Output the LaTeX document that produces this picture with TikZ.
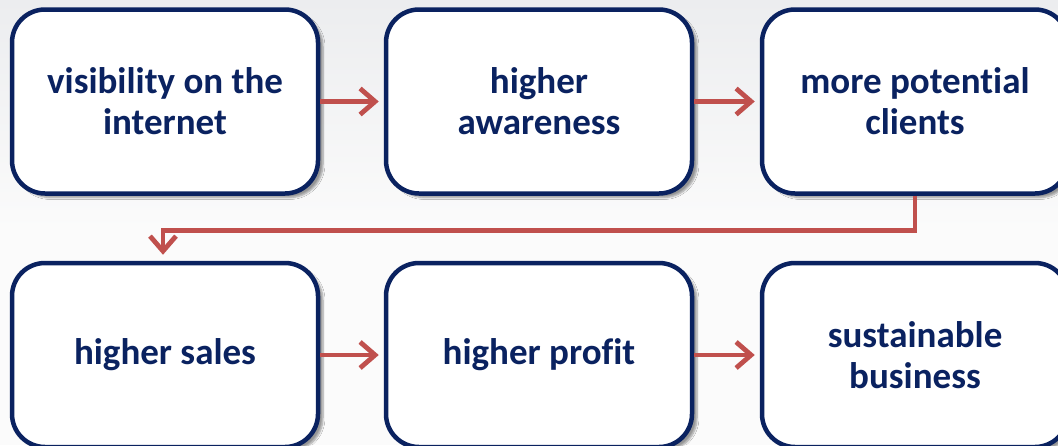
\documentclass[tikz,border=0pt]{standalone}
\usepackage{fontspec}
\setmainfont{Carlito}[Ligatures={NoCommon}]
\usetikzlibrary{arrows.meta,shadows.blur}
\definecolor{navy}{HTML}{0A2260}
\definecolor{redline}{HTML}{C0504D}
\definecolor{bgtop}{HTML}{ECEDEF}
\definecolor{bgmid}{HTML}{FBFBFB}
\tikzset{
  box/.style={draw=navy, line width=4.5pt, fill=white, rounded corners=33pt,
    minimum width=306pt, minimum height=184pt, align=center, text=navy,
    font=\fontsize{37}{41}\selectfont\bfseries,
    blur shadow={shadow xshift=5pt, shadow yshift=-4pt, shadow blur steps=6, shadow opacity=40}},
  link/.style={draw=redline, line width=4.8pt,
    -{Straight Barb[length=15pt, width=26pt, line width=4.8pt]}}
}
\begin{document}
\begin{tikzpicture}[x=1pt,y=-1pt]
\useasboundingbox (0,0) rectangle (1058,445);
\clip (0,0) rectangle (1058,445);
\shade[top color=bgtop, bottom color=bgmid] (0,0) rectangle (1058,230);
\fill[bgmid] (0,230) rectangle (1058,445);
\node[box] (b1) at (165,101.5) {visibility on the\\internet};
\node[box] (b2) at (539,101.5) {higher\\awareness};
\node[box] (b3) at (915,101.5) {more potential\\clients};
\node[box] (b4) at (165,355) {higher sales};
\node[box] (b5) at (539,355) {higher profit};
\node[box] (b6) at (915,355) {sustainable\\business};
\draw[link] (b1.east) -- ([xshift=-5pt]b2.west);
\draw[link] (b2.east) -- ([xshift=-5pt]b3.west);
\draw[link] (b4.east) -- ([xshift=-5pt]b5.west);
\draw[link] (b5.east) -- ([xshift=-5pt]b6.west);
\draw[link] (b3.south) -- ++(0,35) -| ([xshift=-2pt,yshift=6pt]b4.north);
\end{tikzpicture}
\end{document}
